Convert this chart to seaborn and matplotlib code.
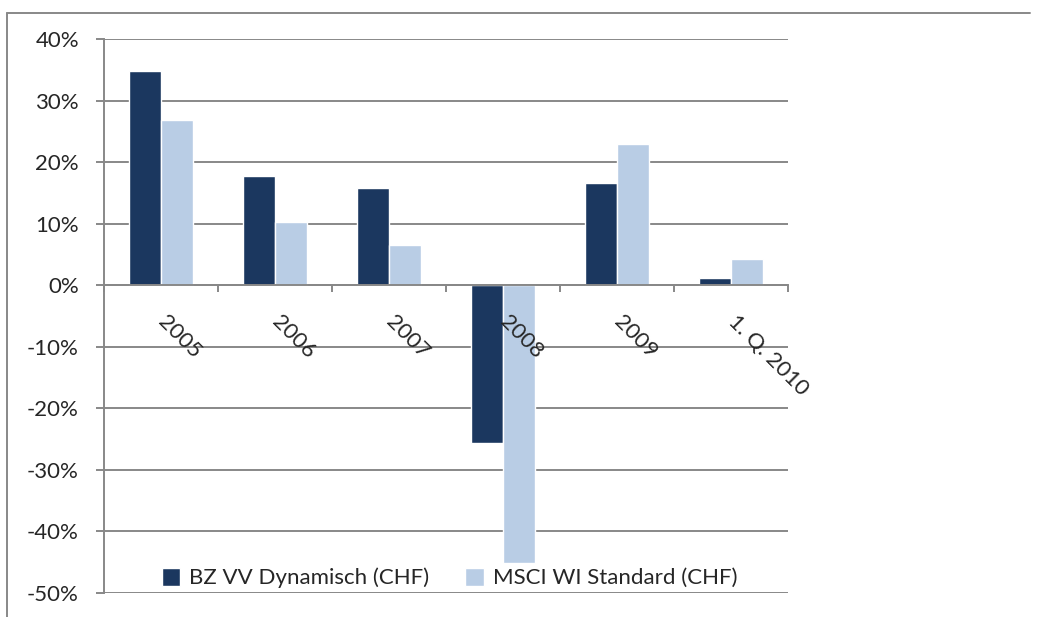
import numpy as np
import matplotlib
matplotlib.use("Agg")
import matplotlib.pyplot as plt
import matplotlib.ticker as mticker
from matplotlib.lines import Line2D
import seaborn as sns
import pandas as pd

categories = ["2005", "2006", "2007", "2008", "2009", "1. Q. 2010"]
series_names = ["BZ VV Dynamisch (CHF)", "MSCI WI Standard (CHF)"]
bz_values = [34.8, 17.7, 15.8, -25.6, 16.6, 1.25]
msci_values = [26.9, 10.35, 6.5, -45.1, 23.0, 4.2]
y_ticks = [-50, -40, -30, -20, -10, 0, 10, 20, 30, 40]

df = pd.DataFrame({
    "Jahr": categories * 2,
    "Rendite": bz_values + msci_values,
    "Serie": [series_names[0]] * len(categories) + [series_names[1]] * len(categories),
})

sns.set_theme(style="white")
plt.rcParams["font.family"] = ["Lato", "DejaVu Sans"]

W, H = 1039, 617
fig = plt.figure(figsize=(W / 100, H / 100), dpi=100)
ax = fig.add_axes([104 / W, 1 - 593 / H, 684 / W, 554 / H])

palette = {series_names[0]: "#1B375F", series_names[1]: "#B9CDE5"}
sns.barplot(data=df, x="Jahr", y="Rendite", hue="Serie", palette=palette,
            width=0.57, saturation=1, ax=ax, zorder=2)

ax.set_xlim(-0.5, len(categories) - 0.5)
ax.set_ylim(-50, 40)
ax.set_yticks(y_ticks)
ax.yaxis.set_major_formatter(mticker.FuncFormatter(lambda v, p: "{:.0f}%".format(v)))
ax.grid(axis="y", color="#888888", linewidth=1.4)
ax.yaxis.set_zorder(0.5)   # gridlines behind the bars
ax.xaxis.set_zorder(3)     # category labels on top of the bars
ax.set_xlabel("")
ax.set_ylabel("")

# x axis crosses at 0, tick marks on category borders, labels at centres
for s in ["top", "right"]:
    ax.spines[s].set_visible(False)
ax.spines["left"].set_color("#888888")
ax.spines["left"].set_linewidth(1.4)
ax.spines["bottom"].set_position(("data", 0))
ax.spines["bottom"].set_color("#888888")
ax.spines["bottom"].set_linewidth(1.4)
ax.spines["bottom"].set_zorder(3)

ax.set_xticks(np.arange(-0.5, len(categories), 1.0))
ax.set_xticklabels([])
ax.set_xticks(np.arange(len(categories)), minor=True)
ax.set_xticklabels(categories, minor=True, rotation=-45, ha="left", va="center",
                   rotation_mode="anchor", fontsize=16)
ax.tick_params(axis="x", which="major", direction="out", length=5, width=1.4, color="#888888", bottom=True)
ax.tick_params(axis="x", which="minor", length=0, pad=24)
ax.tick_params(axis="y", direction="out", length=6, width=1.4, color="#888888", left=True,
               labelsize=16, pad=12)

leg = ax.legend(loc="center", bbox_to_anchor=(0.505, 0.027), ncol=2, frameon=False,
                fontsize=16, handlelength=0.85, handleheight=0.85, handletextpad=0.4,
                columnspacing=1.6, borderaxespad=0)

# outer chart frame
fig.add_artist(Line2D([7 / W, 7 / W], [0, 1 - 13 / H], color="#888888", linewidth=1.4))
fig.add_artist(Line2D([7 / W, 1030 / W], [1 - 13 / H, 1 - 13 / H], color="#888888", linewidth=1.4))

fig.savefig("out.png", dpi=100)
